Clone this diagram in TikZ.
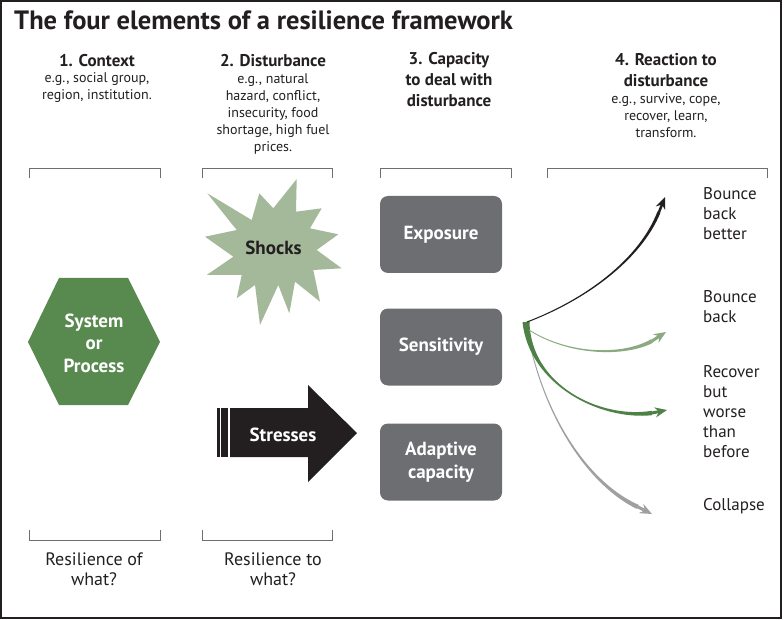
\documentclass[tikz,border=0pt]{standalone}
\usepackage{fontspec}
\setmainfont{PT Sans}
\usepackage{xcolor}
\usetikzlibrary{arrows.meta,calc}

\definecolor{hexgreen}{HTML}{588A4F}
\definecolor{shockgreen}{HTML}{A3B99A}
\definecolor{boxgrey}{HTML}{6D6E71}
\definecolor{inkblack}{HTML}{231F20}
\definecolor{lightarrow}{HTML}{8AAA80}
\definecolor{darkarrow}{HTML}{4E8146}
\definecolor{greyarrow}{HTML}{A0A0A3}

\newcommand{\titlefont}{\fontsize{26.5}{30}\selectfont\bfseries}
\newcommand{\headfont}{\fontsize{17}{21}\selectfont\bfseries}
\newcommand{\notefont}{\fontsize{14}{17}\selectfont}
\newcommand{\askfont}{\fontsize{18}{20}\selectfont}
\newcommand{\reactfont}{\fontsize{17}{20}\selectfont}
\newcommand{\shapefont}{\fontsize{19}{22.5}\selectfont\bfseries}

% tapered stroke: colour, start, control 1, control 2, end, half widths
\newcommand{\brushstroke}[9]{%
  \fill[#1] ($(#2)!#6!90:(#3)$)
    .. controls ($(#3)!#7!-90:(#2)$) and ($(#4)!#8!90:(#5)$)
    .. ($(#5)!#9!-90:(#4)$)
    -- ($(#5)!#9!90:(#4)$)
    .. controls ($(#4)!#8!-90:(#5)$) and ($(#3)!#7!90:(#2)$)
    .. ($(#2)!#6!-90:(#3)$) -- cycle;}

\begin{document}
\begin{tikzpicture}[x=1pt,y=-1pt,
    head/.style={font=\headfont,text=inkblack,align=center,inner sep=0pt,anchor=base},
    note/.style={font=\notefont,text=inkblack,align=center,inner sep=0pt,anchor=base},
    ask/.style={font=\askfont,text=inkblack,align=center,inner sep=0pt,anchor=base},
    react/.style={font=\reactfont,text=inkblack,align=left,inner sep=0pt,anchor=base west},
    capbox/.style={fill=boxgrey,rounded corners=8pt,minimum width=122pt,minimum height=77pt,
      text=white,font=\shapefont,align=center,inner sep=0pt},
    bracketline/.style={boxgrey,line width=0.7pt},
    tip/.style={-{Stealth[length=12pt,width=10pt]}}]
  \useasboundingbox (0,0) rectangle (784,620);
  \draw[inkblack,line width=1.5pt] (1,1) rectangle (781,618);

  \node[font=\titlefont,text=inkblack,inner sep=0pt,anchor=base west] (title) at (14,30)
    {The four elements of a resilience framework};

  % column heads (base = last line)
  \node[head] (context) at (97,67) {1. Context};
  \node[note] (contextnote) at (97,100) {e.g., social group,\\region, institution.};
  \node[head] (disturb) at (273,67) {2. Disturbance};
  \node[note] (disturbnote) at (273,152) {e.g., natural\\hazard, conflict,\\insecurity, food\\shortage, high fuel\\prices.};
  \node[head] (capacity) at (449,107) {3. Capacity\\to deal with\\disturbance};
  \node[head] (reaction) at (666,87) {4. Reaction to\\disturbance};
  \node[note] (reactionnote) at (666,138) {e.g., survive, cope,\\recover, learn,\\transform.};

  % brackets
  \foreach \xa/\xb in {29/160,202/332,380/511,547/767}
    \draw[bracketline] (\xa,178) -- (\xa,168) -- (\xb,168) -- (\xb,178);
  \foreach \xa/\xb in {29/160,202/332}
    \draw[bracketline] (\xa,530) -- (\xa,540) -- (\xb,540) -- (\xb,530);

  \node[ask] (ofwhat) at (94,585) {Resilience of\\what?};
  \node[ask] (towhat) at (273,585) {Resilience to\\what?};

  % system
  \fill[hexgreen] (28,342) -- (59,278) -- (128,278) -- (160,342) -- (128,405) -- (59,405) -- cycle;
  \node[font=\shapefont,text=white,align=center,inner sep=0pt] (system) at (94,343) {System\\or\\Process};

  % shocks
  \fill[shockgreen] (207.3,193.3) -- (251.7,220) -- (259.3,193.3) -- (273.3,208.3)
    -- (296.7,179) -- (296,211.7) -- (321.7,208.3) -- (310,228.3)
    -- (338.3,234.3) -- (316.7,250) -- (341.7,268.3) -- (313.3,270)
    -- (320,301.7) -- (295,281.7) -- (289.3,313.3) -- (278.3,285)
    -- (260,325) -- (255,285) -- (236.7,298.3) -- (241.7,275)
    -- (206.7,275) -- (233.3,256.7) -- (205,236.7) -- (236.7,230) -- cycle;
  \node[font=\shapefont,text=inkblack,inner sep=0pt] (shocks) at (273.5,248) {Shocks};

  % stresses
  \fill[inkblack] (217,408) rectangle (219.5,457);
  \fill[inkblack] (221,408) rectangle (228,457);
  \fill[inkblack] (230,408) -- (308,408) -- (308,385) -- (357,433) -- (308,482) -- (308,457) -- (230,457) -- cycle;
  \node[font=\shapefont,text=white,inner sep=0pt] (stresses) at (283,435) {Stresses};

  % capacity
  \node[capbox] (exposure) at (441,234.5) {Exposure};
  \node[capbox] (sensitivity) at (441,347) {Sensitivity};
  \node[capbox] (adaptive) at (441,462) {Adaptive\\capacity};

  % reactions
  \coordinate (root) at (527,322);
  \coordinate (better) at (659,212);
  \coordinate (back) at (652,341);
  \coordinate (worse) at (652,413);
  \coordinate (collapse) at (638,507);
  \brushstroke{greyarrow}{528,335}{545,420}{590,485}{collapse}{0.4pt}{0.6pt}{1.2pt}{2.2pt}
  \draw[greyarrow,tip,line width=3pt] (collapse) -- (652,514);
  \brushstroke{darkarrow}{526,322}{530,385}{600,420}{worse}{3.5pt}{0.6pt}{0.8pt}{2.2pt}
  \draw[darkarrow,tip,line width=3pt] (worse) -- (667,410);
  \brushstroke{lightarrow}{529,330}{570,356}{625,356}{back}{0.4pt}{0.6pt}{1.2pt}{2pt}
  \draw[lightarrow,tip,line width=3pt] (back) -- (666,332);
  \brushstroke{inkblack}{root}{585,300}{640,260}{better}{0.5pt}{0.6pt}{1pt}{1.6pt}
  \draw[inkblack,tip,line width=2.5pt] (better) -- (665,197);

  \node[react] (betterlabel) at (703,240) {Bounce\\back\\better};
  \node[react] (backlabel) at (703,322) {Bounce\\back};
  \node[react] (worselabel) at (703,457) {Recover\\but\\worse\\than\\before};
  \node[react] (collapselabel) at (703,510) {Collapse};
\end{tikzpicture}
\end{document}
